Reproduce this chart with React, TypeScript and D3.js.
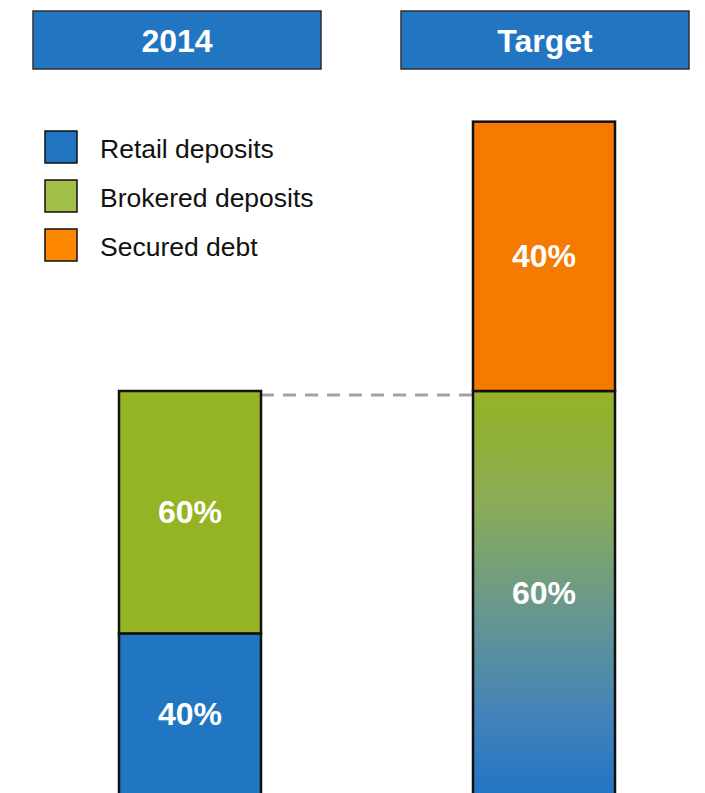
import React from "react";
import * as d3 from "d3";

const headers = ["2014", "Target"];
const legendLabels = ["Retail deposits", "Brokered deposits", "Secured debt"];
const legendColors = ["#2174c1", "#a1bf48", "#fd8800"];

// 2014 bar, percent of bar
const retail2014 = 40;
const brokered2014 = 60;
// Target bar, percent of bar (lower part is the deposit mix)
const depositsTarget = 60;
const securedTarget = 40;

const W = 705;
const H = 793;

const BLUE = "#2076c1";
const GREEN = "#95b424";
const ORANGE = "#f57a00";

const App = () => {
  const hx = d3.scaleBand().domain(headers).range([33, 689]).paddingInner(80 / 368);
  const bx = d3.scalePoint().domain(headers).range([190, 544]);
  // 2014 total = 100 units; target deposits level matches it (dashed line)
  const y = d3.scaleLinear().domain([0, 100]).range([795, 391]);
  const targetTotal = (100 * 100) / depositsTarget;
  const unit = (p: number, total: number) => (p / 100) * total;

  const barW = 142;
  const cx = (h: string) => bx(h) as number;

  const segs = [
    { bar: "2014", y0: 0, y1: unit(retail2014, 100), fill: BLUE, label: retail2014 },
    { bar: "2014", y0: unit(retail2014, 100), y1: 100, fill: GREEN, label: brokered2014 },
    { bar: "Target", y0: 0, y1: unit(depositsTarget, targetTotal), fill: "url(#mix)", label: depositsTarget },
    {
      bar: "Target",
      y0: unit(depositsTarget, targetTotal),
      y1: targetTotal,
      fill: ORANGE,
      label: securedTarget,
    },
  ];

  return (
    <svg
      width={W}
      height={H}
      style={{ position: "absolute", left: 0, top: 0, fontFamily: "'Liberation Sans', Arial, sans-serif" }}
    >
      <defs>
        <linearGradient id="mix" x1="0" y1="0" x2="0" y2="1">
          <stop offset="0%" stopColor={GREEN} />
          <stop offset="28%" stopColor="#8aab58" />
          <stop offset="55%" stopColor="#67978f" />
          <stop offset="80%" stopColor="#4383b9" />
          <stop offset="100%" stopColor="#2175c4" />
        </linearGradient>
      </defs>
      <rect width={W} height={H} fill="#fff" />

      {headers.map((h) => (
        <g key={h}>
          <rect
            x={hx(h)}
            y={11}
            width={hx.bandwidth()}
            height={58}
            fill="#2175c1"
            stroke="#2b2f36"
            strokeWidth={1.5}
          />
          <text
            x={(hx(h) as number) + hx.bandwidth() / 2}
            y={52}
            textAnchor="middle"
            fill="#fff"
            fontWeight="bold"
            fontSize={32}
          >
            {h}
          </text>
        </g>
      ))}

      {legendLabels.map((l, i) => (
        <g key={l} transform={`translate(0, ${131 + i * 49})`}>
          <rect x={45} y={0} width={32} height={32} fill={legendColors[i]} stroke="#111" strokeWidth={1.5} />
          <text x={100} y={27} fontSize={26.5} fill="#111">
            {l}
          </text>
        </g>
      ))}

      <line
        x1={cx("2014") + barW / 2}
        x2={cx("Target") - barW / 2}
        y1={y(100) + 4}
        y2={y(100) + 4}
        stroke="#a3a3a3"
        strokeWidth={3}
        strokeDasharray="13 9"
      />

      {segs.map((s, i) => (
        <g key={i}>
          <rect
            x={cx(s.bar) - barW / 2}
            y={y(s.y1)}
            width={barW}
            height={y(s.y0) - y(s.y1)}
            fill={s.fill}
            stroke="#111"
            strokeWidth={2.5}
          />
          <text
            x={cx(s.bar)}
            y={(y(s.y0) + y(s.y1)) / 2 + 11}
            textAnchor="middle"
            fill="#fff"
            fontWeight="bold"
            fontSize={32}
          >
            {s.label}%
          </text>
        </g>
      ))}
    </svg>
  );
};

export default App;
